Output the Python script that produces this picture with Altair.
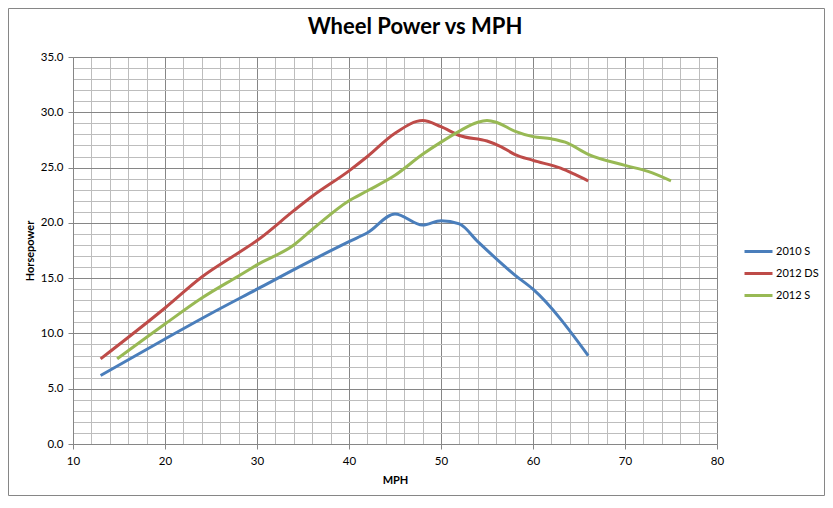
import altair as alt
import pandas as pd

# ---- data ----
series_names = ["2010 S", "2012 DS", "2012 S"]
series_colors = ["#4A7EBB", "#BE4B48", "#98B954"]

mph_2010s = [13, 20, 25, 30, 35, 40, 42, 45, 48, 50, 52, 54, 58, 60, 66]
hp_2010s = [6.2, 9.5, 11.8, 14.0, 16.2, 18.3, 19.1, 20.8, 19.8, 20.2, 19.9, 18.3, 15.3, 14.0, 8.0]

mph_2012ds = [13, 20, 24, 28, 30, 34, 36, 40, 42, 45, 48, 50, 52, 55, 56.5, 58, 60, 63, 64.5, 66]
hp_2012ds = [7.7, 12.3, 15.1, 17.3, 18.4, 21.1, 22.4, 24.7, 26.0, 28.1, 29.25, 28.7, 27.9, 27.4, 26.9, 26.2, 25.65, 24.95, 24.4, 23.8]

mph_2012s = [14.8, 20, 24, 28, 30, 34, 36, 40, 42, 45, 48, 50, 52, 54, 55, 56, 58, 60, 62, 63.5, 66, 70, 72.5, 75]
hp_2012s = [7.7, 10.85, 13.2, 15.2, 16.2, 18.0, 19.4, 22.0, 22.9, 24.3, 26.2, 27.3, 28.3, 29.1, 29.25, 29.1, 28.3, 27.8, 27.6, 27.3, 26.2, 25.2, 24.65, 23.8]

x_ticks = list(range(10, 82, 2))
y_ticks = list(range(0, 36, 1))

rows = []
for name, xs, ys in [
    ("2010 S", mph_2010s, hp_2010s),
    ("2012 DS", mph_2012ds, hp_2012ds),
    ("2012 S", mph_2012s, hp_2012s),
]:
    for i, (x, y) in enumerate(zip(xs, ys)):
        rows.append({"series": name, "mph": x, "hp": y, "order": i})
df = pd.DataFrame(rows)

FONT = "Lato"
MAJOR = "#868686"
MINOR = "#BDBDBD"

W, H = 644, 387
PAD_L, PAD_T, PAD_R, PAD_B = 65, 49, 108, 52

lines = alt.Chart(df).mark_line(interpolate="monotone", strokeWidth=3).encode(
    x=alt.X(
        "mph:Q",
        scale=alt.Scale(domain=[10, 80], nice=False, zero=False),
        axis=alt.Axis(
            values=x_ticks,
            labelExpr="datum.value % 10 === 0 ? datum.label : ''",
            format="d",
            title="MPH",
            titleFont=FONT,
            titleFontWeight="bold",
            titleFontSize=11,
            titleColor="#000000",
            titlePadding=8,
            labelFont=FONT,
            labelFontSize=11.5,
            labelColor="#000000",
            labelPadding=6,
            labelFlush=False,
            domainColor=MAJOR,
            tickColor=MAJOR,
            tickSize=5,
            tickOpacity={"condition": {"test": "datum.value % 10 === 0", "value": 1}, "value": 0},
            gridColor={"condition": {"test": "datum.value % 10 === 0", "value": MAJOR}, "value": MINOR},
            gridOpacity=1,
        ),
    ),
    y=alt.Y(
        "hp:Q",
        scale=alt.Scale(domain=[0, 35], nice=False),
        axis=alt.Axis(
            values=y_ticks,
            labelExpr="datum.value % 5 === 0 ? format(datum.value, '.1f') : ''",
            title="Horsepower",
            titleFont=FONT,
            titleFontWeight="bold",
            titleFontSize=11,
            titleColor="#000000",
            titlePadding=5,
            labelFont=FONT,
            labelFontSize=11.5,
            labelColor="#000000",
            labelPadding=5,
            labelFlush=False,
            domainColor=MAJOR,
            tickColor=MAJOR,
            tickSize=5,
            tickOpacity={"condition": {"test": "datum.value % 5 === 0", "value": 1}, "value": 0},
            gridColor={"condition": {"test": "datum.value % 5 === 0", "value": MAJOR}, "value": MINOR},
            gridOpacity=1,
        ),
    ),
    color=alt.Color(
        "series:N",
        scale=alt.Scale(domain=series_names, range=series_colors),
        legend=alt.Legend(
            title=None,
            orient="none",
            legendX=670,
            legendY=179,
            symbolType="stroke",
            symbolSize=784,
            symbolStrokeWidth=3,
            labelFont=FONT,
            labelFontSize=11,
            labelColor="#000000",
            labelOffset=2,
            rowPadding=-4,
            padding=0,
        ),
    ),
    order="order:O",
)

frame = alt.Chart(pd.DataFrame({"k": [0]})).mark_rect(
    fill=None, stroke="#868686", strokeWidth=1
).encode(
    x=alt.value(-PAD_L + 0.5),
    x2=alt.value(W + PAD_R - 0.5),
    y=alt.value(-PAD_T + 0.5),
    y2=alt.value(H + PAD_B - 0.5),
)

chart = alt.layer(frame, lines).properties(
    width=W,
    height=H,
    padding={"left": PAD_L, "top": PAD_T, "right": PAD_R, "bottom": PAD_B},
    autosize=alt.AutoSizeParams(type="none"),
    title=alt.TitleParams(
        "Wheel Power vs MPH",
        font=FONT,
        fontSize=22,
        fontWeight="bold",
        color="#000000",
        anchor="middle",
        baseline="alphabetic",
        dx=20,
        offset=-48,
    ),
).configure_view(stroke=None)

chart.save("out.html", embed_options={"renderer": "svg", "actions": False})
